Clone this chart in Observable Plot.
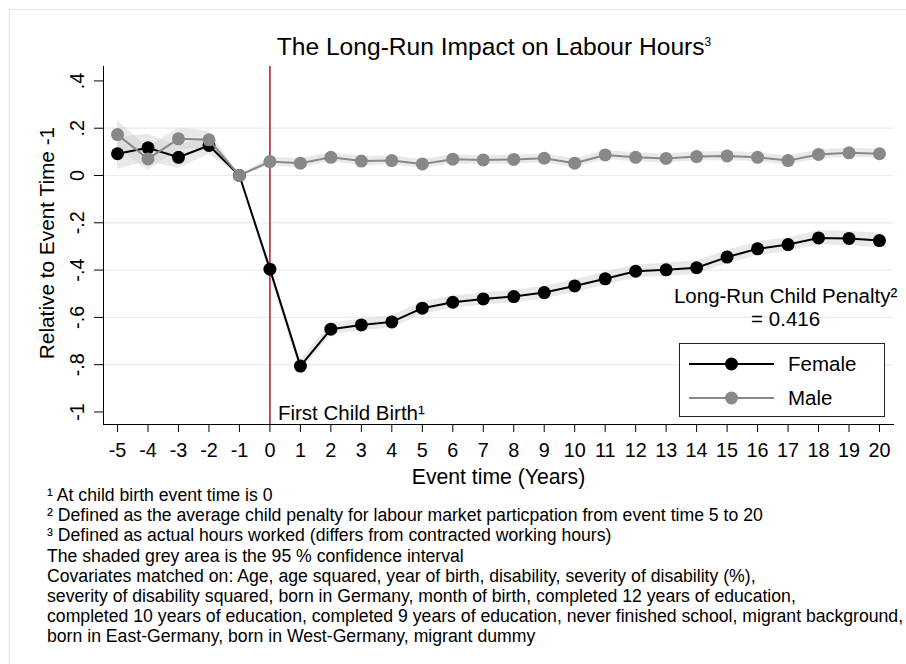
<!DOCTYPE html>
<html>
<head>
<meta charset="utf-8">
<script src="https://cdn.jsdelivr.net/npm/d3@7"></script>
<script src="https://cdn.jsdelivr.net/npm/@observablehq/plot@0.6"></script>
<style>
  html, body { margin: 0; padding: 0; background: #fff; }
  body { font-family: "Liberation Sans", Arial, Helvetica, sans-serif; color: #000; }
  #wrap { position: relative; width: 906px; height: 664px; overflow: hidden; }
  #edge { position: absolute; left: 9px; top: 9px; right: -2px; bottom: -2px; border-left: 1px solid #e6e6e6; border-top: 1px solid #e6e6e6; }
  #title { position: absolute; left: 0; width: 988px; top: 33px; text-align: center; font-size: 24.6px; line-height: 28px; white-space: nowrap; }
  #title sup { font-size: 12px; vertical-align: 9px; line-height: 0; }
  #chart { position: absolute; left: 0; top: 0; }
  #legend { position: absolute; left: 0; top: 0; }
  #notes { position: absolute; left: 47px; top: 485px; font-size: 17.65px; line-height: 20px; white-space: nowrap; }
  #notes .blk2 { margin-top: 0.5px; }
</style>
</head>
<body>
<div id="wrap">
  <div id="edge"></div>
  <div id="chart"></div>
  <div id="title">The Long-Run Impact on Labour Hours<sup>3</sup></div>
  <div id="legend"></div>
  <div id="notes">
    <div>¹ At child birth event time is 0</div>
    <div>² Defined as the average child penalty for labour market particpation from event time 5 to 20</div>
    <div>³ Defined as actual hours worked (differs from contracted working hours)</div>
    <div class="blk2">
      <div>The shaded grey area is the 95 % confidence interval</div>
      <div>Covariates matched on: Age, age squared, year of birth, disability, severity of disability (%),</div>
      <div>severity of disability squared, born in Germany, month of birth, completed 12 years of education,</div>
      <div>completed 10 years of education, completed 9 years of education, never finished school, migrant background,</div>
      <div>born in East-Germany, born in West-Germany, migrant dummy</div>
    </div>
  </div>
</div>
<script>
// ---- data ----
const eventTime = [-5,-4,-3,-2,-1,0,1,2,3,4,5,6,7,8,9,10,11,12,13,14,15,16,17,18,19,20];
const female = [0.092,0.117,0.077,0.127,0,-0.396,-0.806,-0.650,-0.632,-0.619,-0.561,-0.536,-0.522,-0.512,-0.495,-0.467,-0.437,-0.405,-0.399,-0.390,-0.345,-0.310,-0.292,-0.264,-0.266,-0.275];
const femaleLo = [0.025,0.06,0.03,0.09,0,-0.42,-0.83,-0.675,-0.657,-0.645,-0.587,-0.562,-0.548,-0.538,-0.522,-0.494,-0.464,-0.432,-0.427,-0.418,-0.373,-0.339,-0.321,-0.294,-0.296,-0.306];
const femaleHi = [0.16,0.175,0.125,0.165,0,-0.372,-0.782,-0.625,-0.607,-0.593,-0.535,-0.51,-0.496,-0.486,-0.468,-0.44,-0.41,-0.378,-0.371,-0.362,-0.317,-0.281,-0.263,-0.234,-0.236,-0.244];
const male = [0.173,0.070,0.155,0.151,0,0.059,0.052,0.077,0.061,0.063,0.049,0.069,0.066,0.068,0.073,0.052,0.087,0.077,0.072,0.080,0.083,0.077,0.063,0.089,0.096,0.092];
const maleLo = [0.115,0.02,0.11,0.115,0,0.04,0.033,0.058,0.042,0.044,0.03,0.05,0.047,0.049,0.054,0.033,0.068,0.058,0.053,0.061,0.064,0.058,0.044,0.07,0.077,0.073];
const maleHi = [0.232,0.12,0.20,0.188,0,0.078,0.071,0.096,0.08,0.082,0.068,0.088,0.085,0.087,0.092,0.071,0.106,0.096,0.091,0.099,0.102,0.096,0.082,0.108,0.115,0.111];
const xTicks = [-5,-4,-3,-2,-1,0,1,2,3,4,5,6,7,8,9,10,11,12,13,14,15,16,17,18,19,20];
const yTicks = [0.4,0.2,0,-0.2,-0.4,-0.6,-0.8,-1];
const yTickLabels = [".4",".2","0","-.2","-.4","-.6","-.8","-1"];
const gridTicks = [0.2,0,-0.2,-0.4,-0.6,-0.8];
const birthLine = [0];
const seriesNames = ["Female","Male"];
const penaltyNote = [{x: 16.92, y: -0.556, text: "Long-Run Child Penalty²\n= 0.416"}];
const birthNote = [{x: 0, y: -1, text: "First Child Birth¹"}];

const FEMALE_COLOR = "#000000";
const MALE_COLOR = "#888888";
const fem = eventTime.map((t,i) => ({t, v: female[i], lo: femaleLo[i], hi: femaleHi[i]}));
const mal = eventTime.map((t,i) => ({t, v: male[i], lo: maleLo[i], hi: maleHi[i]}));
const yTickRows = yTicks.map((v,i) => ({v, label: yTickLabels[i]}));

const chart = Plot.plot({
  width: 906,
  height: 490,
  marginTop: 66,
  marginLeft: 103,
  marginRight: 13,
  marginBottom: 66,
  x: {domain: [-5.46, 20.46]},
  y: {domain: [-1.053, 0.461]},
  style: {fontFamily: '"Liberation Sans", Arial, Helvetica, sans-serif', fontSize: "19.5px", color: "#000", background: "transparent", overflow: "visible"},
  marks: [
    Plot.gridY(gridTicks, {stroke: "#e3edf2", strokeOpacity: 1, strokeWidth: 1.2}),
    Plot.areaY(fem, {x: "t", y1: "lo", y2: "hi", fill: "#cfcfcf", fillOpacity: 0.45}),
    Plot.areaY(mal, {x: "t", y1: "lo", y2: "hi", fill: "#cfcfcf", fillOpacity: 0.45}),
    Plot.ruleX(birthLine, {stroke: "#b3172c", strokeWidth: 1.5}),
    Plot.line(fem, {x: "t", y: "v", stroke: FEMALE_COLOR, strokeWidth: 2}),
    Plot.dot(fem, {x: "t", y: "v", r: 6.5, fill: FEMALE_COLOR, stroke: "none"}),
    Plot.line(mal, {x: "t", y: "v", stroke: MALE_COLOR, strokeWidth: 2}),
    Plot.dot(mal, {x: "t", y: "v", r: 6.5, fill: MALE_COLOR, stroke: "none"}),
    Plot.axisX({ticks: xTicks, tickSize: 8, tickPadding: 10, tickFormat: d => String(d), label: null, fontSize: 19.8}),
    Plot.axisY({ticks: yTicks, tickSize: 9, tickFormat: () => "", label: null}),
    Plot.frame({anchor: "left", stroke: "#000"}),
    Plot.frame({anchor: "bottom", stroke: "#000"}),
    Plot.text(yTickRows, {y: "v", text: "label", frameAnchor: "left", dx: -26, rotate: -90, textAnchor: "middle", lineAnchor: "middle", fontSize: 19.8}),
    Plot.text(["Event time (Years)"], {text: d => d, frameAnchor: "bottom", dy: 53, lineAnchor: "middle", fontSize: 21.2}),
    Plot.text(["Relative to Event Time -1"], {text: d => d, frameAnchor: "left", dx: -56, dy: -2.5, rotate: -90, textAnchor: "middle", lineAnchor: "middle", fontSize: 20.8}),
    Plot.text(penaltyNote, {x: "x", y: "y", text: "text", textAnchor: "middle", lineAnchor: "middle", lineHeight: 1.12, fontSize: 20.5}),
    Plot.text(birthNote, {x: "x", y: "y", text: "text", textAnchor: "start", dx: 8, dy: 1, lineAnchor: "middle", fontSize: 20.5})
  ]
});
document.getElementById("chart").appendChild(chart);

// ---- legend ----
const lg = d3.select("#legend").append("svg").attr("width", 906).attr("height", 664)
  .style("font-family", '"Liberation Sans", Arial, Helvetica, sans-serif');
lg.append("rect").attr("x", 679.5).attr("y", 343.5).attr("width", 205).attr("height", 73)
  .attr("fill", "#fff").attr("stroke", "#222").attr("stroke-width", 1);
const legendColors = [FEMALE_COLOR, MALE_COLOR];
seriesNames.forEach((name, i) => {
  const cy = 364 + i * 34;
  lg.append("line").attr("x1", 689).attr("x2", 774).attr("y1", cy).attr("y2", cy)
    .attr("stroke", legendColors[i]).attr("stroke-width", 2);
  lg.append("circle").attr("cx", 731.5).attr("cy", cy).attr("r", 6.5).attr("fill", legendColors[i]);
  lg.append("text").attr("x", 788).attr("y", cy).attr("dy", "0.35em").attr("font-size", 20.5).text(name);
});
</script>
</body>
</html>
